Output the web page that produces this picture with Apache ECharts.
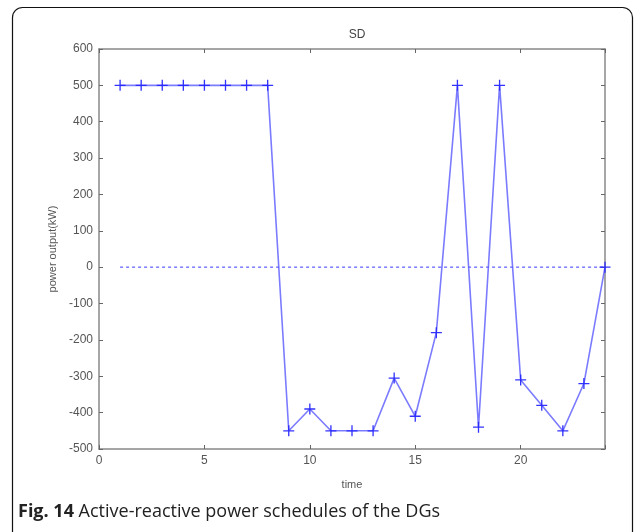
<!DOCTYPE html>
<html>
<head>
<meta charset="utf-8">
<script src="https://cdn.jsdelivr.net/npm/echarts@6/dist/echarts.min.js"></script>
<style>
html,body{margin:0;padding:0;background:#fff;}
#c{width:637px;height:532px;}
</style>
</head>
<body>
<div id="c"></div>
<script>
const hours = [1,2,3,4,5,6,7,8,9,10,11,12,13,14,15,16,17,18,19,20,21,22,23,24];
const sdValues = [500,500,500,500,500,500,500,500,-450,-390,-450,-450,-450,-305,-410,-180,500,-440,500,-310,-380,-450,-320,0];
const zeroLine = [0,0];
const zeroHours = [1,24];
const xTicks = [0,5,10,15,20];
const yTicks = [-500,-400,-300,-200,-100,0,100,200,300,400,500,600];

const chart = echarts.init(document.getElementById('c'));
const plus = 'path://M4.4,0h1.2v10h-1.2zM0,4.4h10v1.2h-10z';
const lineColor = 'rgba(90,90,255,0.8)';
const axisGray = '#888';
const labelCol = '#555';
const font = 'Liberation Sans, Arial, sans-serif';

const baseX = {
  type: 'value', min: 0, max: 24, interval: 5,
  axisLine: {show: true, onZero: false, lineStyle: {color: axisGray, width: 1.5}},
  axisTick: {show: true, inside: true, length: 4, lineStyle: {color: '#666'}},
  splitLine: {show: false}
};
const baseY = {
  type: 'value', min: -500, max: 600, interval: 100,
  axisLine: {show: true, onZero: false, lineStyle: {color: axisGray, width: 1.5}},
  axisTick: {show: true, inside: true, length: 4, lineStyle: {color: '#666'}},
  splitLine: {show: false}
};

chart.setOption({
  animation: false,
  title: {
    text: 'SD', left: 352, top: 24, textAlign: 'center',
    textStyle: {fontFamily: font, fontSize: 12, fontWeight: 'normal', color: '#444'}
  },
  grid: {left: 99, right: 32, top: 49, bottom: 83},
  xAxis: [
    Object.assign({}, baseX, {
      position: 'bottom',
      name: 'time', nameLocation: 'middle', nameGap: 30,
      nameTextStyle: {fontFamily: font, fontSize: 11, color: labelCol},
      axisLabel: {fontFamily: font, fontSize: 12, color: labelCol, margin: 6,
        formatter: v => xTicks.includes(v) ? String(v) : ''}
    }),
    Object.assign({}, baseX, {position: 'top', axisLabel: {show: false}})
  ],
  yAxis: [
    Object.assign({}, baseY, {
      position: 'left',
      name: 'power output(kW)', nameLocation: 'middle', nameGap: 33,
      nameTextStyle: {fontFamily: font, fontSize: 11, color: labelCol},
      axisLabel: {fontFamily: font, fontSize: 12, color: labelCol, margin: 6,
        formatter: v => yTicks.includes(v) ? String(v) : ''}
    }),
    Object.assign({}, baseY, {position: 'right', axisLabel: {show: false}})
  ],
  series: [
    {
      type: 'line',
      data: zeroHours.map((h, i) => [h, zeroLine[i]]),
      symbol: 'none',
      lineStyle: {color: lineColor, width: 1.5, type: [3, 3]},
      z: 2
    },
    {
      type: 'line',
      data: hours.map((h, i) => [h, sdValues[i]]),
      symbol: plus, symbolSize: 11,
      itemStyle: {color: 'rgba(40,40,255,0.95)'},
      lineStyle: {color: lineColor, width: 1.6},
      z: 3
    }
  ],
  graphic: [
    {
      type: 'rect', z: 100, silent: true,
      shape: {x: 12.5, y: 7.5, width: 620, height: 540, r: 10},
      style: {fill: 'none', stroke: '#111', lineWidth: 1.2}
    },
    {
      type: 'text', z: 100, left: 18, top: 503,
      style: {
        text: '{b|Fig. 14} Active-reactive power schedules of the DGs',
        rich: {
          b: {fontFamily: 'Open Sans, sans-serif', fontSize: 18, fontWeight: 'bold', fill: '#222'}
        },
        fontFamily: 'Open Sans, sans-serif', fontSize: 18, fill: '#222'
      }
    }
  ]
});
</script>
</body>
</html>
